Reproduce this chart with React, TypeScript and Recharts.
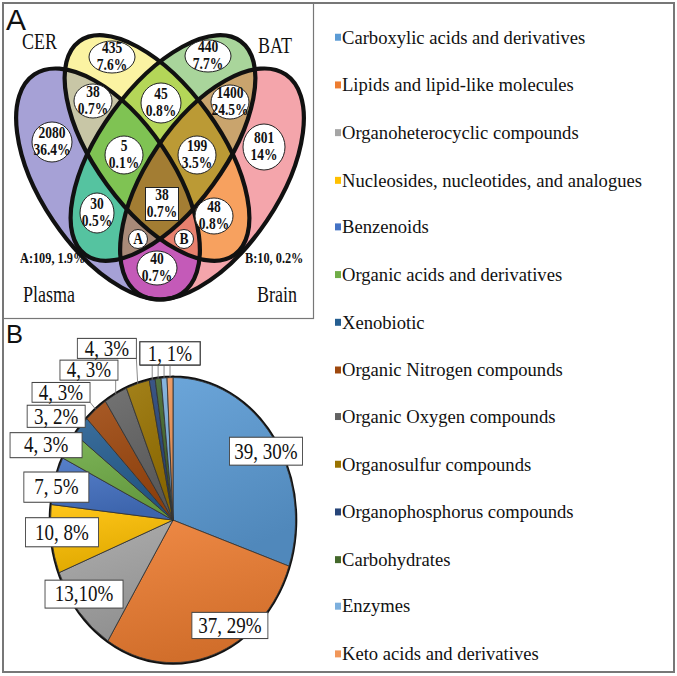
import React from 'react';
import { ScatterChart, Scatter, XAxis, YAxis, PieChart, Pie, Cell, Legend } from 'recharts';

const SERIF = "'Liberation Serif', 'Times New Roman', serif";
const SANS = "'Liberation Sans', Arial, sans-serif";

// ---- panel A: four-way Venn ----
const vennSets = ['Plasma', 'CER', 'BAT', 'Brain'];
const regionSets = [
  ['Plasma'], ['CER'], ['BAT'], ['Brain'],
  ['Plasma', 'CER'], ['Plasma', 'BAT'], ['Plasma', 'Brain'],
  ['CER', 'BAT'], ['CER', 'Brain'], ['BAT', 'Brain'],
  ['Plasma', 'CER', 'BAT'], ['Plasma', 'CER', 'Brain'], ['Plasma', 'BAT', 'Brain'], ['CER', 'BAT', 'Brain'],
  ['Plasma', 'CER', 'BAT', 'Brain'],
];
const regionCounts = [2080, 435, 440, 801, 38, 30, 40, 45, 48, 1400, 5, 10, 109, 199, 38];
const regionShares = ['36.4%', '7.6%', '7.7%', '14%', '0.7%', '0.5%', '0.7%', '0.8%', '0.8%', '24.5%', '0.1%', '0.2%', '1.9%', '3.5%', '0.7%'];
const regionTags = ['', '', '', '', '', '', '', '', '', '', '', 'B', 'A', '', ''];

// ---- panel B: compound classes ----
const pieCategories = [
  'Carboxylic acids and derivatives',
  'Lipids and lipid-like molecules',
  'Organoheterocyclic compounds',
  'Nucleosides, nucleotides, and analogues',
  'Benzenoids',
  'Organic acids and derivatives',
  'Xenobiotic',
  'Organic Nitrogen compounds',
  'Organic Oxygen compounds',
  'Organosulfur compounds',
  'Organophosphorus compounds',
  'Carbohydrates',
  'Enzymes',
  'Keto acids and derivatives',
];
const pieCounts = [39, 37, 13, 10, 7, 4, 3, 4, 4, 4, 1, 1, 1, 1];
const pieLabels = ['39, 30%', '37, 29%', '13,10%', '10, 8%', '7, 5%', '4, 3%', '3, 2%', '4, 3%', '4, 3%', '4, 3%', '1, 1%', '1, 1%', '1, 1%', '1, 1%'];

// ---- styles and layout ----
const regionColors = [
  '#a6a1d6', '#fbf3a2', '#a9d59b', '#f4a5ab',
  '#c8c6a6', '#55c3a0', '#c45ab8', '#b4d658', '#f7a15f', '#c9a46d',
  '#7fc353', '#e8806e', '#a98a78', '#bb9a35',
  '#a37d33',
];
// ellipse per set: centre, semi-axes, rotation
const setShape = [
  { cx: 108, cy: 184, rx: 132, ry: 66, rot: 56 },
  { cx: 157, cy: 148, rx: 132, ry: 62, rot: 54 },
  { cx: 163, cy: 148, rx: 132, ry: 62, rot: -54 },
  { cx: 212, cy: 184, rx: 132, ry: 66, rot: -56 },
];
const setNamePos = [[23, 302], [22, 49], [258, 53], [257, 302]];
const regionAnchor = [
  [52, 142], [112, 57], [208, 56], [264, 147],
  [93, 101], [97, 213], [157, 268], [161, 103], [214, 216], [230, 102],
  [124, 155], [184, 239], [138, 239], [197, 155], [162, 204],
];
const regionBubble = [
  [20, 20], [23, 16], [23, 16], [21, 23],
  [19, 17], [17, 20], [20, 17], [20, 20], [19, 18], [19, 17],
  [19, 19], [9.5, 9.5], [9.5, 9.5], [19, 19], [16.5, 16.5],
];
const boxedRegion = 14;
const notePos: Record<number, [number, number]> = { 11: [245, 263], 12: [20, 263] };

const pieColors = [
  '#5b9bd5', '#ed7d31', '#a5a5a5', '#ffc000', '#4472c4', '#70ad47', '#255e91',
  '#9e480e', '#636363', '#997300', '#264478', '#43682b', '#7cafdd', '#f1975a',
];
// label position: radius factor and angle shift from the slice middle
const labelPlace = [
  [0.9, -3.1], [0.873, 12.6], [0.893, -4.2], [0.91, -2.3], [0.98, 2.4],
  [1.162, 4.5], [1.2, 3.8], [1.28, 6.5], [1.256, 5.2], [1.32, 7.4],
  [1.17, -8.6], [1.17, -5.8], [1.17, -3], [1.17, -0.2],
];
const labelBox = [
  [73, 24], [76, 22.5], [78, 24], [73, 25], [65, 26],
  [72, 21.5], [58, 19], [58, 17], [58, 17.2], [59, 17.2],
  [60, 19.8], [60, 19.8], [60, 19.8], [60, 19.8],
];

const SCALE_Y = 676 / 581;
const RAD = Math.PI / 180;

const mix = (hex: string, target: number, t: number) => {
  const n = parseInt(hex.slice(1), 16);
  const ch = [(n >> 16) & 255, (n >> 8) & 255, n & 255].map((c) => Math.round(c + (target - c) * t));
  return `rgb(${ch.join(',')})`;
};

const StretchText = ({ x, y, size, bold, anchor = 'middle', sy = 1.2, children }: any) => (
  <text
    transform={`translate(${x} ${y}) scale(1 ${sy})`}
    fontFamily={SERIF}
    fontSize={size}
    fontWeight={bold ? 700 : 400}
    textAnchor={anchor}
    fill="#111"
  >
    {children}
  </text>
);

const setPoints = vennSets.map((name, i) => ({ x: setShape[i].cx, y: setShape[i].cy, name, i }));
const regionPoints = regionSets.map((sets, i) => ({
  x: regionAnchor[i][0],
  y: regionAnchor[i][1],
  i,
  sets,
  count: regionCounts[i],
  share: regionShares[i],
  tag: regionTags[i],
}));

const SetClip = (props: any) => {
  const { cx, cy, payload } = props;
  const s = setShape[payload.i];
  return (
    <defs>
      <clipPath id={`vclip-${payload.name}`}>
        <ellipse cx={cx} cy={cy} rx={s.rx} ry={s.ry} transform={`rotate(${s.rot} ${cx} ${cy})`} />
      </clipPath>
    </defs>
  );
};

const RegionFill = (props: any) => {
  const { payload } = props;
  let node = <rect x={-10} y={-10} width={340} height={340} fill={regionColors[payload.i]} />;
  payload.sets.forEach((s: string) => {
    node = <g clipPath={`url(#vclip-${s})`}>{node}</g>;
  });
  return node;
};

const SetOutline = (props: any) => {
  const { cx, cy, payload } = props;
  const s = setShape[payload.i];
  const [nx, ny] = setNamePos[payload.i];
  return (
    <g>
      <ellipse
        cx={cx}
        cy={cy}
        rx={s.rx}
        ry={s.ry}
        transform={`rotate(${s.rot} ${cx} ${cy})`}
        fill="none"
        stroke="#111"
        strokeWidth={4.2}
      />
      <StretchText x={nx} y={ny} size={18} anchor="start" sy={1.25}>{payload.name}</StretchText>
    </g>
  );
};

const RegionLabel = (props: any) => {
  const { cx, cy, payload } = props;
  const i = payload.i;
  const [rx, ry] = regionBubble[i];
  if (payload.tag) {
    const [nx, ny] = notePos[i];
    return (
      <g>
        <ellipse cx={cx} cy={cy} rx={rx} ry={ry} fill="#fff" stroke="#222" strokeWidth={1} />
        <StretchText x={cx} y={cy + 5} size={13.5} bold>{payload.tag}</StretchText>
        <StretchText x={nx} y={ny} size={12.3} bold anchor="start">
          {`${payload.tag}:${payload.count}, ${payload.share}`}
        </StretchText>
      </g>
    );
  }
  return (
    <g>
      {i === boxedRegion ? (
        <rect x={cx - rx} y={cy - ry} width={rx * 2} height={ry * 2} fill="#fff" stroke="#222" strokeWidth={1} />
      ) : (
        <ellipse cx={cx} cy={cy} rx={rx} ry={ry} fill="#fff" stroke="#222" strokeWidth={1} />
      )}
      <StretchText x={cx} y={cy - 4.5} size={13.5} bold>{payload.count}</StretchText>
      <StretchText x={cx} y={cy + 13} size={13.5} bold>{payload.share}</StretchText>
    </g>
  );
};

const pieData = pieCategories.map((name, i) => ({ name, value: pieCounts[i] }));
const outlineData = [{ name: 'all', value: pieCounts.reduce((a, b) => a + b, 0) }];

const renderPieLabel = (props: any) => {
  const { cx, cy, midAngle, outerRadius, index } = props;
  const [rf, da] = labelPlace[index];
  const [w, h] = labelBox[index];
  const a = (midAngle + da) * RAD;
  const lx = cx + outerRadius * rf * Math.cos(a);
  const ly = cy - outerRadius * rf * Math.sin(a);
  let leader = null;
  if (rf > 1.05) {
    const m = midAngle * RAD;
    const ex = cx + outerRadius * Math.cos(m);
    const ey = cy - outerRadius * Math.sin(m);
    const bx = Math.max(lx - w / 2, Math.min(ex, lx + w / 2));
    const by = Math.max(ly - h / 2, Math.min(ey, ly + h / 2));
    leader = <line x1={ex} y1={ey} x2={bx} y2={by} stroke="#777" strokeWidth={0.8} />;
  }
  return (
    <g>
      {leader}
      <rect x={lx - w / 2} y={ly - h / 2} width={w} height={h} fill="#fff" stroke="#444" strokeWidth={0.9} />
      <text x={lx} y={ly + 6.3} textAnchor="middle" fontFamily={SERIF} fontSize={19} fill="#111">
        {pieLabels[index]}
      </text>
    </g>
  );
};

const renderLegend = () => (
  <div style={{ fontFamily: SERIF, fontSize: 18.6, color: '#111' }}>
    {pieCategories.map((c, i) => (
      <div key={c} style={{ height: 40.76, display: 'flex', alignItems: 'center', whiteSpace: 'nowrap' }}>
        <span style={{ display: 'inline-block', width: 6, height: 6, background: pieColors[i], marginRight: 1 }} />
        <span style={{ display: 'inline-block', transform: 'scaleY(0.9)' }}>{c}</span>
      </div>
    ))}
  </div>
);

export default function App() {
  return (
    <div style={{ position: 'absolute', left: 0, top: 0, width: 677, height: 676, background: '#fff', overflow: 'hidden' }}>
      <div style={{ position: 'absolute', left: 0, top: 0, transform: `scaleY(${SCALE_Y})`, transformOrigin: '0 0' }}>
        <PieChart width={677} height={581} margin={{ top: 0, right: 0, bottom: 0, left: 0 }}>
          <defs>
            {pieColors.map((c, i) => (
              <linearGradient key={c + i} id={`pg-${i}`} x1="0" y1="0" x2="0.3" y2="1">
                <stop offset="0%" stopColor={mix(c, 255, 0.1)} />
                <stop offset="100%" stopColor={mix(c, 0, 0.12)} />
              </linearGradient>
            ))}
          </defs>
          <Pie
            data={outlineData}
            dataKey="value"
            cx={173}
            cy={447}
            outerRadius={123}
            startAngle={90}
            endAngle={-270}
            fill="none"
            stroke="#111"
            strokeWidth={2.6}
            legendType="none"
            isAnimationActive={false}
          />
          <Pie
            data={pieData}
            dataKey="value"
            nameKey="name"
            cx={173}
            cy={447}
            outerRadius={122.5}
            startAngle={90}
            endAngle={-270}
            stroke="#333"
            strokeWidth={0.8}
            label={renderPieLabel}
            labelLine={false}
            isAnimationActive={false}
          >
            {pieData.map((d, i) => (
              <Cell key={d.name} fill={`url(#pg-${i})`} />
            ))}
          </Pie>
          <Legend
            layout="vertical"
            align="right"
            verticalAlign="top"
            content={renderLegend}
            wrapperStyle={{ left: 335, top: 12, width: 340 }}
          />
        </PieChart>
      </div>

      <div style={{ position: 'absolute', left: 0, top: 0 }}>
        <ScatterChart width={320} height={320} margin={{ top: 0, right: 0, bottom: 0, left: 0 }}>
          <XAxis type="number" dataKey="x" domain={[0, 320]} hide />
          <YAxis type="number" dataKey="y" domain={[0, 320]} reversed hide />
          <Scatter data={setPoints} shape={SetClip} isAnimationActive={false} />
          <Scatter data={regionPoints} shape={RegionFill} isAnimationActive={false} />
          <Scatter data={setPoints} shape={SetOutline} isAnimationActive={false} />
          <Scatter data={regionPoints} shape={RegionLabel} isAnimationActive={false} />
        </ScatterChart>
      </div>

      <svg width={677} height={676} style={{ position: 'absolute', left: 0, top: 0, pointerEvents: 'none' }}>
        <rect x={3} y={3} width={671} height={669} fill="none" stroke="#777" strokeWidth={2} />
        <rect x={3} y={3} width={310.5} height={315.5} fill="none" stroke="#777" strokeWidth={1.2} />
        <text x={6} y={29.5} fontFamily={SANS} fontSize={30} fill="#111">A</text>
        <text x={6} y={343} fontFamily={SANS} fontSize={25.5} fill="#111">B</text>
      </svg>
    </div>
  );
}
